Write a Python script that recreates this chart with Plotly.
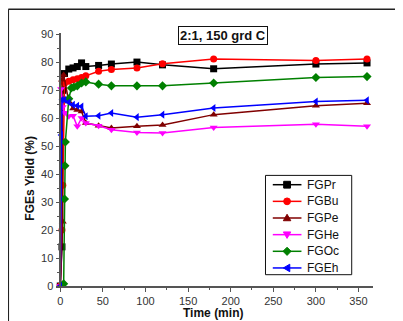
import plotly.graph_objects as go

# ---- data ----
t_pr = [0, 2, 3, 5, 10, 15, 20, 25, 30, 45, 60, 90, 120, 180, 300, 360]
y_pr = [0, 14, 70, 76, 77.6, 78, 78.5, 79.8, 78.5, 78.9, 79.4, 80.1, 79.1, 77.7, 79.4, 79.8]

t_bu = [0, 2, 3, 5, 10, 15, 20, 25, 30, 45, 60, 90, 120, 180, 300, 360]
y_bu = [0, 20, 36, 72.5, 73.2, 73.8, 74.1, 74.6, 75.2, 76.8, 77.4, 78, 79.5, 81.2, 80.7, 81.2]

t_pe = [0, 3, 2, 4, 10, 15, 20, 25, 30, 45, 60, 90, 120, 180, 300, 360]
y_pe = [0, 23, 73.8, 75.5, 66, 63.5, 63, 62.4, 58.3, 57.3, 56.5, 57.1, 57.6, 61.3, 64.5, 65.4]

t_he = [0, 1, 3, 5, 10, 15, 20, 25, 30, 45, 60, 90, 120, 180, 300, 360]
y_he = [0, 70.5, 64, 62, 60.7, 60.9, 57.1, 60.1, 58.3, 57.3, 55.9, 54.9, 54.7, 56.7, 57.9, 57.1]

t_oc = [4, 5, 5.5, 6, 10, 13, 16, 20, 25, 30, 45, 60, 90, 120, 180, 300, 360]
y_oc = [0.8, 31.1, 43, 51.5, 67, 70.8, 71.2, 71.6, 72.6, 73, 72.2, 71.6, 71.6, 71.6, 72.6, 74.6, 74.9]

t_eh = [0, 1, 2, 5, 10, 15, 20, 25, 30, 45, 60, 90, 120, 180, 300, 360]
y_eh = [0, 54, 66.6, 66.6, 65.7, 64.8, 64.5, 64.2, 60.7, 60.9, 61.9, 60.4, 61.3, 63.7, 66, 66.4]

names = ["FGPr", "FGBu", "FGPe", "FGHe", "FGOc", "FGEh"]
colors = ["#000000", "#FF0000", "#800000", "#FF00FF", "#008000", "#0000FF"]
symbols = ["square", "circle", "triangle-up", "triangle-down", "diamond", "triangle-left"]
series = [(t_pr, y_pr), (t_bu, y_bu), (t_pe, y_pe), (t_he, y_he), (t_oc, y_oc), (t_eh, y_eh)]

FONT = "Arial, Liberation Sans, sans-serif"

fig = go.Figure()
for (tx, ty), n, c, s in zip(series, names, colors, symbols):
    fig.add_trace(go.Scatter(
        x=tx, y=ty, name=n, mode="lines+markers", showlegend=False,
        line=dict(color=c, width=1.5),
        marker=dict(symbol=s, size=7, color=c),
    ))

# page has an 8px body margin: work in window pixels, convert to figure
OFF = 8
W, H = 395, 313
L = 56.04 - OFF
R = W - (373.3 - OFF)
T = 33.3 - OFF
B = H - (286.3 - OFF)
pw, ph = W - L - R, H - T - B


def px_x(p):
    return (p - OFF - L) / pw


def px_y(p):
    return (H - B - (p - OFF)) / ph


def path(pts):
    return "M " + " L ".join(f"{px_x(a):.5f},{px_y(b):.5f}" for a, b in pts) + " Z"


def symbol_shape(sym, cx, cy, r, color):
    if sym == "circle":
        return dict(type="circle", xref="paper", yref="paper",
                    x0=px_x(cx - r), x1=px_x(cx + r), y0=px_y(cy + r), y1=px_y(cy - r),
                    fillcolor=color, line=dict(color=color, width=1))
    if sym == "square":
        pts = [(cx - r, cy - r), (cx + r, cy - r), (cx + r, cy + r), (cx - r, cy + r)]
    elif sym == "triangle-up":
        pts = [(cx, cy - r * 1.1), (cx + r * 1.1, cy + r * 0.8), (cx - r * 1.1, cy + r * 0.8)]
    elif sym == "triangle-down":
        pts = [(cx, cy + r * 1.1), (cx + r * 1.1, cy - r * 0.8), (cx - r * 1.1, cy - r * 0.8)]
    elif sym == "diamond":
        pts = [(cx, cy - r * 1.2), (cx + r * 1.2, cy), (cx, cy + r * 1.2), (cx - r * 1.2, cy)]
    else:  # triangle-left
        pts = [(cx - r * 1.1, cy), (cx + r * 0.8, cy - r * 1.1), (cx + r * 0.8, cy + r * 1.1)]
    return dict(type="path", xref="paper", yref="paper", path=path(pts),
                fillcolor=color, line=dict(color=color, width=1))


frame = dict(color="#222", width=1.5)
shapes = [
    # outer frame: only the top and left edges fall inside the window
    dict(type="line", xref="paper", yref="paper",
         x0=px_x(8.3), x1=px_x(420), y0=px_y(9.5), y1=px_y(9.5), line=frame),
    dict(type="line", xref="paper", yref="paper",
         x0=px_x(8.3), x1=px_x(8.3), y0=px_y(9.5), y1=px_y(340), line=frame),
    # legend box
    dict(type="rect", xref="paper", yref="paper",
         x0=px_x(265.7), x1=px_x(352), y0=px_y(275), y1=px_y(175.7),
         line=dict(color="#111", width=1), fillcolor="white", layer="above"),
]
annotations = [
    dict(text="<b>2:1, 150 grd C</b>", xref="paper", yref="paper",
         x=px_x(223), y=px_y(36), xanchor="center", yanchor="middle",
         showarrow=False, bordercolor="#111", borderwidth=1, borderpad=1,
         bgcolor="white", font=dict(family=FONT, size=13, color="#111")),
    dict(text="<b>FGEs Yield (%)</b>", xref="paper", yref="paper",
         x=px_x(30), y=px_y(178), xanchor="center", yanchor="middle",
         textangle=-90, showarrow=False,
         font=dict(family=FONT, size=12, color="#111")),
    dict(text="<b>Time (min)</b>", xref="paper", yref="paper",
         x=px_x(213), y=px_y(313), xanchor="center", yanchor="middle",
         showarrow=False, font=dict(family=FONT, size=12, color="#111")),
]

row_y = 185.0
for i, (n, c, s) in enumerate(zip(names, colors, symbols)):
    yy = row_y + i * 16.65
    shapes.append(dict(type="line", xref="paper", yref="paper",
                       x0=px_x(273), x1=px_x(301.7), y0=px_y(yy), y1=px_y(yy),
                       line=dict(color=c, width=1.5), layer="above"))
    sh = symbol_shape(s, 287.3, yy, 3.4, c)
    sh["layer"] = "above"
    shapes.append(sh)
    annotations.append(dict(text=n, xref="paper", yref="paper",
                            x=px_x(305.5), y=px_y(yy), xanchor="left", yanchor="middle",
                            showarrow=False,
                            font=dict(family=FONT, size=12, color="#111")))

fig.update_layout(
    width=W, height=H,
    margin=dict(l=L, r=R, t=T, b=B, pad=0),
    paper_bgcolor="white", plot_bgcolor="white",
    font=dict(family=FONT, size=11, color="#222"),
    showlegend=False,
    xaxis=dict(
        range=[-5, 367], showgrid=False, zeroline=False,
        showline=True, linecolor="#555", linewidth=1.5,
        ticks="outside", ticklen=4, tickwidth=1, tickcolor="#555",
        dtick=50, tick0=0,
        minor=dict(ticks="outside", ticklen=2.5, dtick=25, tick0=0, tickcolor="#555"),
        tickfont=dict(family=FONT, size=11, color="#333"),
    ),
    yaxis=dict(
        range=[0, 90.5], showgrid=False, zeroline=False,
        anchor="free", position=(60.3 - 56.04) / pw,
        showline=True, linecolor="#555", linewidth=1.5,
        ticks="outside", ticklen=4, tickwidth=1, tickcolor="#555",
        dtick=10, tick0=0,
        minor=dict(ticks="outside", ticklen=2.5, dtick=5, tick0=0, tickcolor="#555"),
        tickfont=dict(family=FONT, size=11, color="#333"),
    ),
    shapes=shapes,
    annotations=annotations,
)

fig.write_html("out.html")
